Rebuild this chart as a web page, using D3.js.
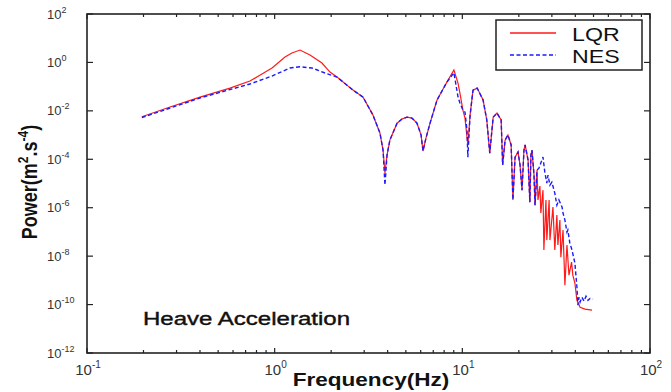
<!DOCTYPE html>
<html>
<head>
<meta charset="utf-8">
<script src="https://cdn.jsdelivr.net/npm/d3@7"></script>
<style>
  html, body { margin: 0; padding: 0; background: #fff; }
  svg { display: block; font-family: "Liberation Sans", Arial, sans-serif; }
</style>
</head>
<body>
<div class="chart-container"></div>
<script>
// tick exponents (labels are 10^n)
const xTickExp = [-1, 0, 1, 2];
const yTickExp = [2, 0, -2, -4, -6, -8, -10, -12];

// LQR (red, solid)
const lqrFreq = [0.196, 0.277, 0.400, 0.578, 0.738, 0.855, 0.968, 1.135, 1.236, 1.364, 1.542, 1.786, 1.972, 2.148,
  2.614, 2.957, 3.34, 3.64, 3.78, 3.87, 3.97, 4.11, 4.49, 4.77, 5.07, 5.39, 5.73, 6.03, 6.17, 6.40, 6.73, 7.33, 8.28, 9.02,
  9.48, 9.71, 10.07, 10.33, 10.59, 10.7, 11.0, 11.4, 12.0, 12.9, 13.5, 14.0, 14.6, 15.3, 16.1, 16.4, 16.9, 17.5,
  18.2, 18.6, 19.1, 19.8, 20.3, 20.8, 21.3, 21.6, 22.4, 22.9, 23.2, 23.5, 24.1, 24.4, 25.0, 25.3, 25.9, 26.2,
  26.9, 27.2, 27.9, 28.2, 29.0, 29.3, 30.4, 31.1, 31.9, 32.3, 33.1, 33.5, 34.4, 35.2, 36.1, 37.0, 38.2, 38.8,
  39.8, 40.8, 42.4, 45.0, 49.1];
const lqrPower = [5.7e-3, 1.44e-2, 3.7e-2, 8.7e-2, 0.17, 0.33, 0.59, 1.67, 2.45, 3.25, 2.02, 0.94, 0.40, 0.25,
  7.2e-2, 3.7e-2, 6.7e-3, 1.21e-3, 2.4e-4, 2.7e-5, 1.5e-4, 6.2e-4, 3.1e-3, 4.6e-3, 5.5e-3, 5.0e-3, 3.1e-3, 1.0e-3, 2.2e-4, 7.5e-4, 3.1e-3, 2.8e-2, 0.155, 0.485,
  0.141, 5.4e-2, 1.08e-2, 5.0e-3, 8.3e-4, 3.9e-4, 6.7e-3, 7.2e-2, 8.7e-2, 2.8e-2, 4.2e-3, 1.8e-4, 5.5e-3, 8.1e-3, 4.2e-3, 5.8e-5, 6.2e-4, 1.0e-3,
  3.9e-4, 2.1e-6, 1.23e-4, 2.0e-4, 5.8e-5, 5.3e-6, 2.4e-4, 3.9e-4, 9.3e-5, 1.7e-6, 1.5e-4, 2.4e-4, 2.2e-5, 1.28e-6, 3.6e-5, 2.1e-6, 7.8e-6, 6.0e-7,
  5.3e-6, 1.8e-8, 2.1e-6, 4.6e-8, 2.1e-6, 4.6e-8, 1.06e-6, 1.8e-8, 5.0e-7, 2.9e-8, 3.1e-7, 9.1e-9, 1.19e-7, 6.3e-10, 2.9e-8, 1.64e-9, 5.7e-9, 1.64e-9,
  7.7e-10, 1.5e-10, 7.8e-11, 6.5e-11, 5.9e-11];

// NES (blue, dashed)
const nesFreq = [0.196, 0.400, 0.578, 0.738, 0.968, 1.207, 1.364, 1.581, 1.854, 2.148,
  2.614, 2.957, 3.34, 3.64, 3.78, 3.87, 3.97, 4.11, 4.49, 4.77, 5.07, 5.39, 5.73, 6.03, 6.17, 6.40, 6.73, 7.33, 8.28, 9.02,
  9.48, 9.71, 10.07, 10.33, 10.59, 10.7, 11.0, 11.4, 12.0, 12.9, 13.5, 14.0, 14.6, 15.3, 16.1, 16.4, 16.9, 17.5,
  18.2, 18.6, 19.1, 19.8, 20.3, 20.8, 21.3, 21.6, 22.4, 22.9, 23.2, 23.5, 24.1, 24.4, 25.0, 25.6, 26.2, 26.9,
  27.5, 28.2, 28.6, 29.3, 30.0, 31.1, 31.9, 32.7, 34.0, 34.4, 35.2, 36.1, 36.5, 37.4, 38.4, 39.8, 40.8, 41.3,
  41.8, 42.4, 43.4, 44.5, 45.6, 46.7, 47.9, 49.7];
const nesPower = [5.3e-3, 3.4e-2, 7.6e-2, 0.128, 0.274, 0.59, 0.66, 0.59, 0.365, 0.25,
  7.2e-2, 3.7e-2, 6.7e-3, 1.21e-3, 2.4e-4, 8.6e-6, 1.5e-4, 6.2e-4, 3.1e-3, 4.6e-3, 5.5e-3, 5.0e-3, 3.1e-3, 1.0e-3, 2.2e-4, 7.5e-4, 3.1e-3, 2.8e-2, 0.155, 0.375,
  3.8e-2, 2.1e-2, 1.08e-2, 8.9e-3, 1.6e-3, 1.23e-4, 6.7e-3, 7.2e-2, 8.7e-2, 2.8e-2, 4.2e-3, 1.8e-4, 5.5e-3, 8.1e-3, 4.2e-3, 5.8e-5, 6.2e-4, 1.0e-3,
  3.9e-4, 2.1e-6, 1.23e-4, 2.0e-4, 5.8e-5, 5.3e-6, 2.4e-4, 3.9e-4, 9.3e-5, 1.7e-6, 1.5e-4, 2.4e-4, 2.2e-5, 1.28e-6, 3.6e-5, 4.3e-5, 7.0e-5, 1.23e-4,
  3.0e-5, 1.04e-5, 2.2e-5, 8.6e-6, 1.14e-5, 4.0e-6, 1.28e-6, 2.1e-6, 1.06e-6, 6.0e-7, 3.1e-7, 9.8e-8, 1.19e-7, 3.5e-8, 1.8e-8, 5.1e-9, 5.2e-10, 9.5e-11,
  2.0e-10, 1.26e-10, 2.0e-10, 1.4e-10, 2.2e-10, 1.5e-10, 1.8e-10, 1.7e-10];

const seriesNames = ["LQR", "NES"];

document.addEventListener("DOMContentLoaded", () => {
  const width = 671;
  const height = 392;
  const plot = { left: 87, right: 650, top: 14, bottom: 353 };
  const stretch = 1.22; // text in the original is widened horizontally
  const axisColor = "#222";

  const svg = d3.select(".chart-container")
    .append("svg")
    .attr("width", width)
    .attr("height", height);

  const x = d3.scaleLog().domain([0.1, 100]).range([plot.left, plot.right]);
  const y = d3.scaleLog().domain([1e-12, 1e2]).range([plot.bottom, plot.top]);

  // minor x ticks 2..9 per decade
  const xMinor = [];
  [0.1, 1, 10].forEach(d => { for (let k = 2; k <= 9; k++) xMinor.push(d * k); });

  const ticks = svg.append("g").attr("stroke", axisColor).attr("stroke-width", 1.2);

  xMinor.forEach(v => {
    ticks.append("line").attr("x1", x(v)).attr("x2", x(v)).attr("y1", plot.bottom).attr("y2", plot.bottom - 3);
    ticks.append("line").attr("x1", x(v)).attr("x2", x(v)).attr("y1", plot.top).attr("y2", plot.top + 3);
  });
  xTickExp.forEach(e => {
    const v = Math.pow(10, e);
    ticks.append("line").attr("x1", x(v)).attr("x2", x(v)).attr("y1", plot.bottom).attr("y2", plot.bottom - 5);
    ticks.append("line").attr("x1", x(v)).attr("x2", x(v)).attr("y1", plot.top).attr("y2", plot.top + 5);
  });
  yTickExp.forEach(e => {
    const v = Math.pow(10, e);
    ticks.append("line").attr("x1", plot.left).attr("x2", plot.left + 6).attr("y1", y(v)).attr("y2", y(v));
    ticks.append("line").attr("x1", plot.right).attr("x2", plot.right - 6).attr("y1", y(v)).attr("y2", y(v));
  });

  // frame
  svg.append("rect")
    .attr("x", plot.left)
    .attr("y", plot.top)
    .attr("width", plot.right - plot.left)
    .attr("height", plot.bottom - plot.top)
    .attr("fill", "none")
    .attr("stroke", axisColor)
    .attr("stroke-width", 1.6);

  // tick labels
  xTickExp.forEach(e => {
    const t = svg.append("text")
      .attr("x", x(Math.pow(10, e)) + 1)
      .attr("y", 375)
      .attr("text-anchor", "middle")
      .style("font-size", "15px")
      .style("fill", "#333");
    t.append("tspan").text("10");
    t.append("tspan").attr("dy", -7).style("font-size", "10px").text(e);
  });
  yTickExp.forEach(e => {
    const t = svg.append("text")
      .attr("x", 47)
      .attr("y", y(Math.pow(10, e)) + 4.6)
      .style("font-size", "13px")
      .style("fill", "#333");
    t.append("tspan").text("10");
    t.append("tspan").attr("dy", -6).style("font-size", "9px").text(e);
  });

  // series
  const line = d3.line()
    .x(d => x(d[0]))
    .y(d => y(d[1]));

  const lqr = lqrFreq.map((f, i) => [f, lqrPower[i]]);
  const nes = nesFreq.map((f, i) => [f, nesPower[i]]);

  svg.append("path")
    .datum(lqr)
    .attr("d", line)
    .attr("fill", "none")
    .attr("stroke", "#ff1a1a")
    .attr("stroke-width", 1.2);

  svg.append("path")
    .datum(nes)
    .attr("d", line)
    .attr("fill", "none")
    .attr("stroke", "#1a1aff")
    .attr("stroke-width", 1.4)
    .attr("stroke-dasharray", "4,2.5");

  // legend
  const legend = svg.append("g");
  legend.append("rect")
    .attr("x", 496).attr("y", 20)
    .attr("width", 146).attr("height", 50)
    .attr("fill", "#fff")
    .attr("stroke", axisColor)
    .attr("stroke-width", 1.5);
  const legendStyle = [
    { color: "#ff1a1a", dash: null, ly: 33 },
    { color: "#1a1aff", dash: "4,2.5", ly: 55 }
  ];
  seriesNames.forEach((name, i) => {
    const s = legendStyle[i];
    legend.append("line")
      .attr("x1", 510).attr("x2", 556)
      .attr("y1", s.ly).attr("y2", s.ly)
      .attr("stroke", s.color)
      .attr("stroke-width", 1.4)
      .attr("stroke-dasharray", s.dash);
    legend.append("text")
      .attr("transform", `translate(572,${s.ly + 7.5}) scale(${stretch},1)`)
      .style("font-size", "19px")
      .style("fill", "#111")
      .text(name);
  });

  // axis titles
  svg.append("text")
    .attr("transform", `translate(371,386) scale(${stretch},1)`)
    .attr("text-anchor", "middle")
    .style("font-size", "18.5px")
    .style("font-weight", "bold")
    .style("fill", "#111")
    .text("Frequency(Hz)");

  const yTitle = svg.append("text")
    .attr("transform", `translate(37,182) scale(${stretch},1) rotate(-90)`)
    .attr("text-anchor", "middle")
    .style("font-size", "18px")
    .style("font-weight", "bold")
    .style("fill", "#111");
  yTitle.append("tspan").text("Power(m");
  yTitle.append("tspan").attr("dy", -7).style("font-size", "12px").text("2");
  yTitle.append("tspan").attr("dy", 7).text(".s");
  yTitle.append("tspan").attr("dy", -7).style("font-size", "12px").text("-4");
  yTitle.append("tspan").attr("dy", 7).text(")");

  svg.append("text")
    .attr("transform", `translate(143,325) scale(1.3,1)`)
    .style("font-size", "18.5px")
    .style("font-weight", "normal")
    .style("stroke", "#111")
    .style("stroke-width", 0.4)
    .style("fill", "#111")
    .text("Heave Acceleration");
});
</script>
</body>
</html>
